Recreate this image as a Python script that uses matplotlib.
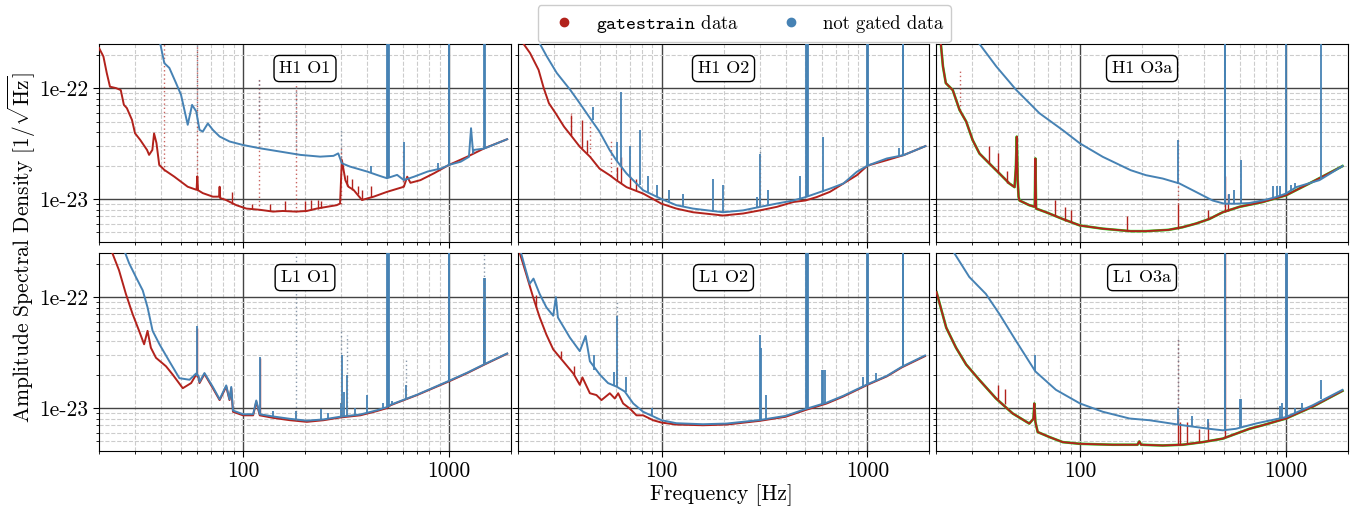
import matplotlib
matplotlib.use("Agg")
import matplotlib.pyplot as plt
from matplotlib.lines import Line2D
from matplotlib.ticker import FixedLocator, FixedFormatter, LogLocator, NullFormatter

plt.rcParams['font.family'] = ['cmr10', 'DejaVu Serif']
plt.rcParams['mathtext.fontset'] = 'cm'
plt.rcParams['axes.unicode_minus'] = False
plt.rcParams['axes.formatter.use_mathtext'] = True

UNIT = 1e-23  # ASD values below are in units of 1e-23 / sqrt(Hz)

PANELS = ["H1 O1", "H1 O2", "H1 O3a", "L1 O1", "L1 O2", "L1 O3a"]
X_TICKS = [100, 1000]
X_TICK_LABELS = ["100", "1000"]
Y_TICKS = [1e-23, 1e-22]
Y_TICK_LABELS = ["1e-23", "1e-22"]

# ---------------- H1 O1 ----------------
H1O1_GATED_F = [20, 21, 21.8, 22.6, 24.2, 25.5, 26.4, 27.3, 28.9, 29.9, 31.7, 34.2, 35, 36.3, 37, 38, 39.2,
                41.5, 46.4, 53.9, 59.5, 60, 60.5, 63.8, 71.4, 76.5, 77, 77.5, 82.7, 92.8, 103.8, 120.5,
                140, 156, 180.5, 204, 228, 255, 285, 296, 302, 314, 325, 344, 378, 431, 500, 604, 627,
                650, 727, 848, 1000, 1229, 1488, 1917]
H1O1_GATED_A = [23, 19.3, 13.7, 10.3, 10.0, 9.6, 7.07, 6.6, 5.17, 3.92, 3.41, 2.77, 2.5, 2.77, 3.9, 3.2, 2.03,
                1.83, 1.59, 1.29, 1.21, 1.6, 1.2, 1.13, 1.05, 1.05, 1.29, 1.02, 0.98, 0.88, 0.82, 0.80,
                0.77, 0.78, 0.77, 0.78, 0.82, 0.85, 0.88, 0.91, 2.25, 1.48, 1.29, 1.21, 0.98, 1.05, 1.16, 1.29, 1.59,
                1.4, 1.48, 1.71, 2.03, 2.41, 2.87, 3.46]
H1O1_GATED_SPIKES = [(88, 0.9, 1.15), (110, 0.81, 0.9), (135, 0.78, 0.9), (160, 0.78, 0.95),
                     (200, 0.78, 0.95), (215, 0.8, 0.98), (230, 0.82, 0.98), (240, 0.83, 0.95),
                     (320, 1.3, 1.65), (340, 1.2, 1.5), (360, 1.1, 1.3), (380, 0.98, 1.2), (420, 1.05, 1.3)]
H1O1_GATED_DOTS = [(41.5, 1.8, 25), (60, 1.2, 25), (120, 0.8, 12), (180, 0.77, 11), (300, 0.9, 3.0),
                   (600, 1.3, 2.8)]
H1O1_RAW_F = [39.5, 41.5, 43.9, 47.3, 50, 53.9, 56.6, 59.3, 61.5, 63.8, 67.5, 71.4, 77, 86.1, 100, 120.5,
              151, 190, 237, 275, 290, 302, 331, 400, 464, 500, 560, 604, 677, 788, 920, 1000, 1140, 1250,
              1280, 1310, 1320, 1480, 1917]
H1O1_RAW_A = [26, 16.8, 15.2, 11.1, 8.72, 4.67, 7.06, 6.16, 4.2, 4.06, 4.8, 4.2, 3.66, 3.3, 3.07, 2.87,
              2.68, 2.5, 2.41, 2.45, 2.58, 2.1, 1.96, 1.77, 1.61, 1.54, 1.65, 1.48, 1.59, 1.77, 1.89, 2.03, 2.17, 2.4,
              4.35, 2.6, 2.77, 2.85, 3.46]
H1O1_RAW_SPIKES = [(503, 1.55, 40), (508, 1.55, 40), (514, 1.55, 40), (604, 1.48, 3.3), (1000, 2.03, 40),
                   (1006, 2.05, 40), (1483, 2.85, 40), (1492, 2.85, 40), (420, 1.7, 2.0), (880, 1.85, 2.1)]
H1O1_RAW_DOTS = [(60, 6.0, 25), (120, 2.87, 12), (180, 2.5, 11), (300, 2.2, 4.2)]

# ---------------- H1 O2 ----------------
H1O2_GATED_F = [21.4, 23, 25.3, 26.8, 28.4, 30.6, 33.6, 36.2, 40.1, 45, 50, 56, 60.3, 67.6, 81.4, 100, 118,
                142, 199, 249, 301, 363, 437, 500, 566, 657, 764, 888, 1000, 1241, 1500, 1912]
H1O2_GATED_A = [25, 20.7, 14.6, 10, 7.3, 5.94, 4.5, 3.78, 2.96, 2.4, 1.88, 1.64, 1.48, 1.28, 1.12, 0.907, 0.82,
                0.76, 0.71, 0.74, 0.79, 0.85, 0.94, 0.97, 1.04, 1.16, 1.38, 1.64, 2.0, 2.24, 2.49, 3.0]
H1O2_GATED_SPIKES = [(36.3, 3.8, 5.7), (40.9, 2.9, 5.2), (43.6, 2.6, 3.4), (60.5, 1.48, 1.95), (63.9, 1.4, 2.4),
                     (70, 1.25, 1.6), (75, 1.2, 1.5)]
H1O2_GATED_DOTS = [(36.3, 3.8, 6.0), (45, 2.4, 4.8), (57, 1.6, 3.5)]
H1O2_RAW_F = [25.7, 27.7, 31, 36, 40.1, 45, 50, 56, 60.3, 67.6, 81.4, 100, 118, 142, 199, 249, 301, 363,
              437, 500, 657, 764, 888, 1000, 1241, 1500, 1912]
H1O2_RAW_A = [25, 19.4, 13.7, 9.67, 7.3, 5.35, 4.05, 2.76, 2.24, 1.7, 1.2, 1.0, 0.88, 0.82, 0.76, 0.79, 0.85,
              0.91, 0.97, 1.04, 1.24, 1.38, 1.76, 2.0, 2.32, 2.49, 3.0]
H1O2_RAW_SPIKES = [(46.4, 5.2, 6.8), (60.5, 2.2, 3.3), (63.4, 2.0, 9.3), (70, 1.6, 3.0), (78.5, 1.35, 4.2),
                   (86, 1.15, 1.6), (95, 1.05, 1.35), (109, 0.93, 1.2), (127, 0.86, 1.1),
                   (178, 0.77, 1.5), (199, 0.76, 1.35), (290, 0.84, 1.05), (300, 0.85, 2.57),
                   (330, 0.88, 1.2), (470, 1.0, 1.6), (503, 1.04, 40), (508, 1.04, 40), (514, 1.05, 40),
                   (606, 1.15, 3.6), (1000, 2.0, 40), (1007, 2.0, 40), (1420, 2.45, 2.9),
                   (1483, 2.49, 40), (1493, 2.49, 40)]
H1O2_RAW_DOTS = [(300, 0.85, 3.0)]

# ---------------- H1 O3a ----------------
H1O3_GATED_F = [20.2, 21.1, 21.6, 22.3, 24.1, 26, 28, 30.1, 32.5, 36.3, 40.6, 45.4, 48.1, 48.8, 49.3, 49.8,
                50.3, 50.8, 56.7, 60.3, 60.7, 61.2, 68.4, 82.4, 100, 129, 176, 209, 269, 315, 365, 424, 493,
                594, 771, 1000, 1297, 1880]
H1O3_GATED_A = [28, 25, 15.7, 11.1, 9.6, 6.36, 5.0, 3.4, 2.57, 2.09, 1.7, 1.38, 1.28, 1.9, 3.65, 1.5,
                1.05, 0.97, 0.88, 0.85, 2.32, 0.82, 0.76, 0.66, 0.577, 0.54, 0.513, 0.513, 0.527, 0.557,
                0.6, 0.66, 0.76, 0.85, 0.94, 1.08, 1.38, 1.98]
H1O3_GATED_SPIKES = [(36, 2.1, 3.0), (40, 1.72, 2.6), (44, 1.4, 1.8), (76, 0.7, 0.98), (85, 0.64, 0.85),
                     (90, 0.62, 0.8), (170, 0.51, 0.7), (300, 0.54, 0.9), (420, 0.66, 0.8), (505, 0.77, 1.6),
                     (520, 0.78, 1.1)]
H1O3_GATED_DOTS = [(26, 6.3, 15), (300, 0.9, 3.4)]
H1O3_RAW_F = [32.5, 39.2, 48.9, 63.5, 82.4, 100, 129, 176, 209, 252, 304, 365, 440, 502, 571, 662, 771,
              894, 1000, 1122, 1454, 1880]
H1O3_RAW_A = [25, 15.7, 9.67, 5.94, 4.18, 3.17, 2.4, 1.82, 1.64, 1.53, 1.38, 1.16, 0.97, 0.907, 0.907,
              0.92, 0.97, 1.04, 1.12, 1.28, 1.48, 1.98]
H1O3_RAW_SPIKES = [(300, 1.38, 3.4), (503, 0.9, 40), (508, 0.9, 40), (530, 0.9, 1.1), (560, 0.9, 1.2),
                   (605, 0.91, 2.24), (860, 1.02, 1.3), (900, 1.04, 1.3), (940, 1.06, 1.3),
                   (1000, 1.1, 40), (1060, 1.2, 1.35), (1100, 1.25, 1.4), (1483, 1.5, 40)]
H1O3_RAW_DOTS = []

# ---------------- L1 O1 ----------------
L1O1_GATED_F = [23.2, 25, 27, 29.1, 31.3, 33.1, 34.4, 35.7, 37.8, 42.3, 45.6, 51, 56, 59.2, 60.8, 61.5, 65,
                71.4, 77, 82.9, 86, 87.7, 89.4, 100, 112, 116, 120.6, 140, 169, 204, 246, 296, 371, 447,
                500, 520, 700, 1000, 1229, 1488, 1917]
L1O1_GATED_A = [25, 17.5, 10.7, 7.05, 4.97, 3.76, 4.97, 3.5, 2.84, 2.38, 2.0, 1.51, 1.68, 2.0, 1.9, 1.68,
                2.03, 1.51, 1.18, 1.56, 1.18, 1.51, 0.926, 0.86, 0.86, 1.14, 0.86, 0.816, 0.777, 0.751,
                0.777, 0.822, 0.86, 0.94, 1.0, 1.06, 1.31, 1.74, 2.07, 2.47, 3.09]
L1O1_GATED_SPIKES = [(60, 1.9, 5.3), (120.6, 0.86, 2.84)]
L1O1_GATED_DOTS = []
L1O1_RAW_F = [26.8, 28, 30.2, 32.6, 34.4, 36.4, 39.3, 43.9, 49.1, 55, 59.2, 60.8, 61.5, 65, 71.4, 77,
              82.9, 86, 87.7, 89.4, 100, 112, 116, 120.6, 140, 169, 204, 246, 296, 371, 447, 500, 520,
              700, 1000, 1229, 1488, 1917]
L1O1_RAW_A = [25, 20.2, 15.2, 11.5, 8.1, 4.97, 3.76, 2.64, 1.86, 1.8, 2.05, 1.95, 1.72, 2.07, 1.55, 1.2,
              1.6, 1.2, 1.55, 0.95, 0.88, 0.88, 1.17, 0.88, 0.84, 0.80, 0.77, 0.79, 0.835, 0.875,
              0.955, 1.02, 1.07, 1.32, 1.76, 2.09, 2.49, 3.11]
L1O1_RAW_SPIKES = [(60, 1.95, 5.5), (120.6, 0.88, 2.9), (140, 0.84, 0.95), (180, 0.78, 0.95),
                   (240, 0.79, 0.98), (260, 0.8, 0.9), (300, 0.84, 1.1), (302, 0.84, 3.0), (310, 0.85, 1.4),
                   (320, 0.85, 2.0), (350, 0.86, 1.0), (400, 0.9, 1.3), (480, 0.98, 1.1),
                   (503, 1.02, 40), (508, 1.02, 40), (513, 1.03, 40), (530, 1.07, 1.15), (620, 1.18, 1.6),
                   (1000, 1.76, 40), (1005, 1.76, 40), (1476, 2.45, 9.0), (1483, 2.48, 15), (1490, 2.5, 15)]
L1O1_RAW_DOTS = [(180, 0.78, 25), (300, 0.84, 5.3), (320, 0.86, 4.6), (620, 1.2, 2.8), (1483, 2.5, 25)]

# ---------------- L1 O2 ----------------
L1O2_GATED_F = [20.5, 22, 23.8, 25.6, 27.6, 29.8, 33.3, 37.3, 40.1, 41.3, 44.9, 48.3, 51.1, 56.1, 59.3,
                61.6, 65.1, 70.1, 75.6, 81.4, 91, 100, 118, 159, 207, 300, 400, 500, 634, 763, 1000,
                1241, 1470, 1903]
L1O2_GATED_A = [25, 16.3, 10, 6.6, 4.6, 3.38, 2.64, 2.05, 1.62, 1.89, 1.36, 1.31, 1.18, 1.36, 1.22, 1.36,
                1.1, 0.99, 0.86, 0.86, 0.777, 0.74, 0.71, 0.70, 0.71, 0.767, 0.834, 0.96, 1.1, 1.27,
                1.62, 1.93, 2.33, 2.94]
L1O2_GATED_SPIKES = [(24.5, 8.0, 10.5), (32.5, 2.8, 3.3), (37.5, 2.0, 2.4)]
L1O2_GATED_DOTS = []
L1O2_RAW_F = [20.8, 21.7, 22.9, 23.9, 25.6, 27.6, 29.8, 30.7, 31.4, 35.9, 40.1, 42.8, 44.9, 50.2, 55,
              60.5, 66.3, 72.9, 81.4, 100, 118, 159, 207, 300, 400, 500, 634, 763, 1000, 1241, 1470, 1903]
L1O2_RAW_A = [25, 18.8, 13.2, 14.7, 10.7, 8.1, 6.8, 10, 6.56, 4.32, 3.26, 4.47, 2.64, 2.0, 1.68, 1.56,
              1.41, 1.1, 0.926, 0.777, 0.73, 0.715, 0.725, 0.78, 0.85, 0.98, 1.12, 1.29, 1.64, 1.95,
              2.36, 2.98]
L1O2_RAW_SPIKES = [(47, 2.2, 3.0), (59, 1.6, 2.1), (60.5, 1.56, 6.8), (67, 1.4, 1.9), (90, 0.85, 1.0),
                   (300, 0.78, 4.6), (305, 0.78, 3.5), (320, 0.79, 1.3), (503, 0.98, 40), (508, 0.98, 40),
                   (514, 0.99, 40), (600, 1.08, 2.2), (610, 1.08, 2.2), (620, 1.09, 2.2), (950, 1.55, 1.9),
                   (1000, 1.64, 40), (1006, 1.64, 40), (1100, 1.75, 2.05), (1483, 2.36, 40), (1493, 2.38, 40)]
L1O2_RAW_DOTS = [(60.5, 1.56, 9.0)]

# ---------------- L1 O3a ----------------
L1O3_GATED_F = [20.1, 22.4, 25, 28, 32.4, 39.1, 47.1, 56.7, 59.4, 60, 60.7, 62.3, 71, 82.4, 100, 144, 190,
                194, 198, 252, 315, 394, 493, 664, 771, 1000, 1348, 1880]
L1O3_GATED_A = [11.1, 5.32, 3.5, 2.47, 1.8, 1.22, 0.894, 0.725, 0.8, 1.1, 0.75, 0.608, 0.548, 0.493,
                0.476, 0.467, 0.467, 0.5, 0.467, 0.46, 0.467, 0.493, 0.53, 0.65, 0.7, 0.805, 1.03, 1.43]
L1O3_GATED_SPIKES = [(40, 1.2, 1.6), (43, 1.08, 1.5), (300, 0.465, 0.85), (305, 0.465, 0.75), (330, 0.47, 0.75),
                     (380, 0.49, 0.65), (420, 0.5, 0.75), (503, 0.55, 40), (1000, 0.805, 40)]
L1O3_GATED_DOTS = [(300, 0.85, 4.4)]
L1O3_RAW_F = [24.5, 29, 34.9, 40.6, 48.9, 60.7, 76.4, 100, 129, 174, 217, 315, 424, 493, 571, 713, 1000,
              1348, 1880]
L1O3_RAW_A = [25, 15.2, 10.7, 7.05, 4.03, 2.14, 1.46, 1.1, 0.926, 0.805, 0.777, 0.7, 0.65, 0.63, 0.65,
              0.725, 0.83, 1.06, 1.46]
L1O3_RAW_SPIKES = [(60.7, 2.14, 3.0), (300, 0.72, 1.0), (350, 0.69, 0.85), (420, 0.65, 0.8),
                   (503, 0.63, 40), (508, 0.63, 40), (600, 0.66, 1.2), (605, 0.66, 1.2),
                   (930, 0.8, 1.05), (960, 0.81, 1.1), (1000, 0.83, 40), (1006, 0.83, 40),
                   (1100, 0.9, 1.0), (1200, 0.96, 1.1), (1483, 1.2, 1.8)]
L1O3_RAW_DOTS = [(300, 0.72, 4.4)]

GATED_F = [H1O1_GATED_F, H1O2_GATED_F, H1O3_GATED_F, L1O1_GATED_F, L1O2_GATED_F, L1O3_GATED_F]
GATED_A = [H1O1_GATED_A, H1O2_GATED_A, H1O3_GATED_A, L1O1_GATED_A, L1O2_GATED_A, L1O3_GATED_A]
GATED_SPIKES = [H1O1_GATED_SPIKES, H1O2_GATED_SPIKES, H1O3_GATED_SPIKES, L1O1_GATED_SPIKES,
                L1O2_GATED_SPIKES, L1O3_GATED_SPIKES]
GATED_DOTS = [H1O1_GATED_DOTS, H1O2_GATED_DOTS, H1O3_GATED_DOTS, L1O1_GATED_DOTS, L1O2_GATED_DOTS,
              L1O3_GATED_DOTS]
RAW_F = [H1O1_RAW_F, H1O2_RAW_F, H1O3_RAW_F, L1O1_RAW_F, L1O2_RAW_F, L1O3_RAW_F]
RAW_A = [H1O1_RAW_A, H1O2_RAW_A, H1O3_RAW_A, L1O1_RAW_A, L1O2_RAW_A, L1O3_RAW_A]
RAW_SPIKES = [H1O1_RAW_SPIKES, H1O2_RAW_SPIKES, H1O3_RAW_SPIKES, L1O1_RAW_SPIKES, L1O2_RAW_SPIKES,
              L1O3_RAW_SPIKES]
RAW_DOTS = [H1O1_RAW_DOTS, H1O2_RAW_DOTS, H1O3_RAW_DOTS, L1O1_RAW_DOTS, L1O2_RAW_DOTS, L1O3_RAW_DOTS]

RED = '#b2221c'
BLUE = '#4682b4'
GREEN = '#22dd22'

fig, axes = plt.subplots(2, 3, figsize=(13.53, 5.08), dpi=100, sharex=True, sharey=True)
fig.subplots_adjust(left=0.0732, right=0.9963, top=0.9134, bottom=0.1122, wspace=0.016, hspace=0.056)

for i, ax in enumerate(axes.flat):
    ax.set_xscale('log')
    ax.set_yscale('log')
    gf = GATED_F[i]
    ga = [v * UNIT for v in GATED_A[i]]
    rf = RAW_F[i]
    ra = [v * UNIT for v in RAW_A[i]]
    if 'O3a' in PANELS[i]:
        ax.plot(gf, ga, color=GREEN, lw=1.9, zorder=2)
    ax.plot(gf, ga, color=RED, lw=1.4, zorder=3)
    for f, lo, hi in GATED_SPIKES[i]:
        ax.vlines(f, lo * UNIT, hi * UNIT, color=RED, lw=1.0, zorder=3)
    for f, lo, hi in GATED_DOTS[i]:
        ax.vlines(f, lo * UNIT, hi * UNIT, color=RED, lw=1.0, linestyles=(0, (1, 2)), alpha=0.7, zorder=3)
    ax.plot(rf, ra, color=BLUE, lw=1.4, zorder=4)
    for f, lo, hi in RAW_SPIKES[i]:
        ax.vlines(f, lo * UNIT, hi * UNIT, color=BLUE, lw=1.3, zorder=4)
    for f, lo, hi in RAW_DOTS[i]:
        ax.vlines(f, lo * UNIT, hi * UNIT, color='#6a7f95', lw=1.0, linestyles=(0, (1, 2)), alpha=0.8, zorder=4)

    ax.set_xlim(20, 2000)
    ax.set_ylim(4.1e-24, 2.5e-22)
    ax.xaxis.set_major_locator(FixedLocator(X_TICKS))
    ax.xaxis.set_major_formatter(FixedFormatter(X_TICK_LABELS))
    ax.yaxis.set_major_locator(FixedLocator(Y_TICKS))
    ax.yaxis.set_major_formatter(FixedFormatter(Y_TICK_LABELS))
    ax.xaxis.set_minor_locator(LogLocator(base=10, subs=range(2, 10), numticks=20))
    ax.yaxis.set_minor_locator(LogLocator(base=10, subs=range(2, 10), numticks=20))
    ax.xaxis.set_minor_formatter(NullFormatter())
    ax.yaxis.set_minor_formatter(NullFormatter())
    ax.grid(True, which='major', color='#444444', lw=1.0, ls='-', zorder=1)
    ax.grid(True, which='minor', color='#cccccc', lw=0.8, ls='--', zorder=0)
    ax.set_axisbelow(True)
    ax.tick_params(axis='both', which='major', labelsize=15.5, length=4)
    ax.tick_params(axis='both', which='minor', length=2.5)
    ax.text(0.5, 0.876, PANELS[i], transform=ax.transAxes, ha='center', va='center', fontsize=13,
            zorder=10, bbox=dict(boxstyle='round,pad=0.3', fc='white', ec='black', lw=1.0))

fig.text(0.5335, 0.025, 'Frequency [Hz]', ha='center', va='center', fontsize=15.5)
fig.text(0.016, 0.513, r'Amplitude Spectral Density [$1/\sqrt{\mathrm{Hz}}$]', ha='center', va='center',
         rotation=90, fontsize=15.5)

handles = [Line2D([], [], marker='o', ls='none', color=RED, markersize=6),
           Line2D([], [], marker='o', ls='none', color=BLUE, markersize=6)]
fig.legend(handles, [r'$\mathtt{gatestrain}$ data', 'not gated data'], loc='upper center',
           bbox_to_anchor=(0.55, 1.008), ncol=2, fontsize=13.5, frameon=True, fancybox=True,
           edgecolor='#cccccc', framealpha=1.0, handletextpad=0.7, columnspacing=1.8)

fig.savefig('out.png', dpi=100)
